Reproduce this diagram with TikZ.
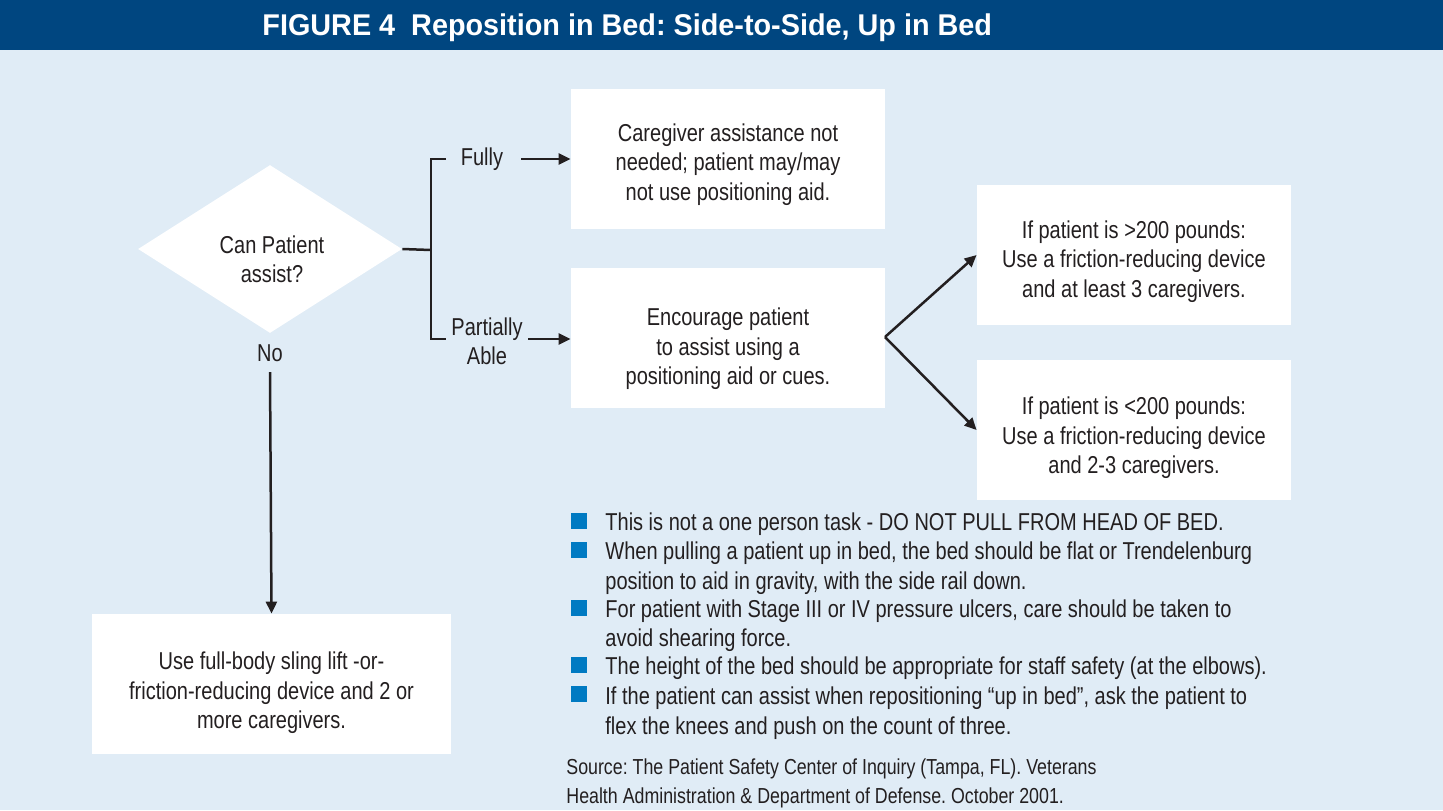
\documentclass[tikz,border=0pt]{standalone}
\usepackage{fontspec}
\setmainfont[FakeStretch=0.82]{Liberation Sans}
\newfontfamily\titlefont[FakeStretch=0.96]{Liberation Sans}
\usetikzlibrary{shapes.geometric,arrows.meta}
\definecolor{hdr}{RGB}{0,70,128}
\definecolor{bg}{RGB}{224,236,246}
\definecolor{bul}{RGB}{0,122,194}
\definecolor{ink}{RGB}{35,31,32}
\newcommand{\bodyfont}{\fontsize{12.2}{14.7}\selectfont}
\frenchspacing
\tikzset{
  box/.style={draw=none,fill=white,minimum width=157pt,minimum height=70pt,inner sep=0pt},
  boxtxt/.style={align=center,inner sep=0pt,text=ink,font=\bodyfont},
  lbl/.style={text=ink,font=\bodyfont,align=center,inner sep=2pt},
  con/.style={draw=ink,line width=1.25pt},
  arr/.style={con,-{Triangle[length=6pt,width=5.5pt]}},
  bsq/.style={fill=bul,minimum size=8pt,inner sep=0pt},
  btxt/.style={text=ink,font=\bodyfont,align=left,anchor=west,inner sep=0pt},
}
\begin{document}
\begin{tikzpicture}[x=0.5pt,y=-0.5pt]
\useasboundingbox (0,0) rectangle (1443,810);
\fill[bg] (0,0) rectangle (1443,810);
\fill[hdr] (0,0) rectangle (1443,50);
\node[anchor=west,text=white,inner sep=0pt,font=\fontsize{15}{17}\titlefont\bfseries] (title) at (262,28) {FIGURE 4\ \ Reposition in Bed: Side-to-Side, Up in Bed};

\node[diamond,fill=white,minimum width=132pt,minimum height=84pt,inner sep=0pt] (dia) at (270,249) {};
\node[boxtxt] (diat) at (272,259) {Can Patient\\assist?};

\node[box] (b1) at (728,159) {};
\node[boxtxt] (b1t) at (728,164.5) {Caregiver assistance not\\needed; patient may/may\\not use positioning aid.};
\node[box] (b2) at (728,338) {};
\node[boxtxt] (b2t) at (728,349) {Encourage patient\\to assist using a\\positioning aid or cues.};
\node[box] (b3) at (1134,255) {};
\node[boxtxt] (b3t) at (1134,261.5) {If patient is >200 pounds:\\Use a friction-reducing device\\and at least 3 caregivers.};
\node[box] (b4) at (1134,430) {};
\node[boxtxt] (b4t) at (1134,438) {If patient is <200 pounds:\\Use a friction-reducing device\\and 2-3 caregivers.};
\node[box,minimum width=179.5pt] (b5) at (271.5,684) {};
\node[boxtxt] (b5t) at (271.5,693) {Use full-body sling lift -or-\\friction-reducing device and 2 or\\more caregivers.};

\node[lbl] (fully) at (482,159) {Fully};
\node[lbl] (part) at (487,341) {Partially\\Able};
\node[lbl] (no) at (270,353) {No};

\coordinate (j) at (431,250);
\coordinate (jt) at (446,159);
\coordinate (jb) at (446,339);
\draw[con] (dia.east) -- (j);
\draw[con] (jt) -- (j |- jt) -- (j |- jb) -- (jb);
\coordinate (fs) at (521,159);
\draw[arr] (fs) -- (b1.west |- fs);
\coordinate (ps) at (528,339);
\draw[arr] (ps) -- (b2.west |- ps);
\coordinate (bs) at (885,337);
\draw[arr] (bs) -- (b3.west);
\draw[arr] (bs) -- (b4.west);
\coordinate (ns) at (270,372);
\draw[arr] (ns) -- (b5.north);

\node[bsq] (s1) at (579,521) {};
\node[bsq] (s2) at (579,550) {};
\node[bsq] (s3) at (579,608) {};
\node[bsq] (s4) at (579,665) {};
\node[bsq] (s5) at (579,694) {};
\node[btxt] (t1) at (605,524) {This is not a one person task - DO NOT PULL FROM HEAD OF BED.};
\node[btxt] (t2) at (605,568) {When pulling a patient up in bed, the bed should be flat or Trendelenburg\\position to aid in gravity, with the side rail down.};
\node[btxt] (t3) at (605,625.5) {For patient with Stage III or IV pressure ulcers, care should be taken to\\avoid shearing force.};
\node[btxt] (t4) at (605,668) {The height of the bed should be appropriate for staff safety (at the elbows).};
\node[btxt] (t5) at (605,713) {If the patient can assist when repositioning “up in bed”, ask the patient to\\flex the knees and push on the count of three.};
\node[btxt,font=\fontsize{10.85}{14.5}\selectfont] (src) at (566,783) {Source: The Patient Safety Center of Inquiry (Tampa, FL). Veterans\\Health Administration \& Department of Defense. October 2001.};
\end{tikzpicture}
\end{document}
